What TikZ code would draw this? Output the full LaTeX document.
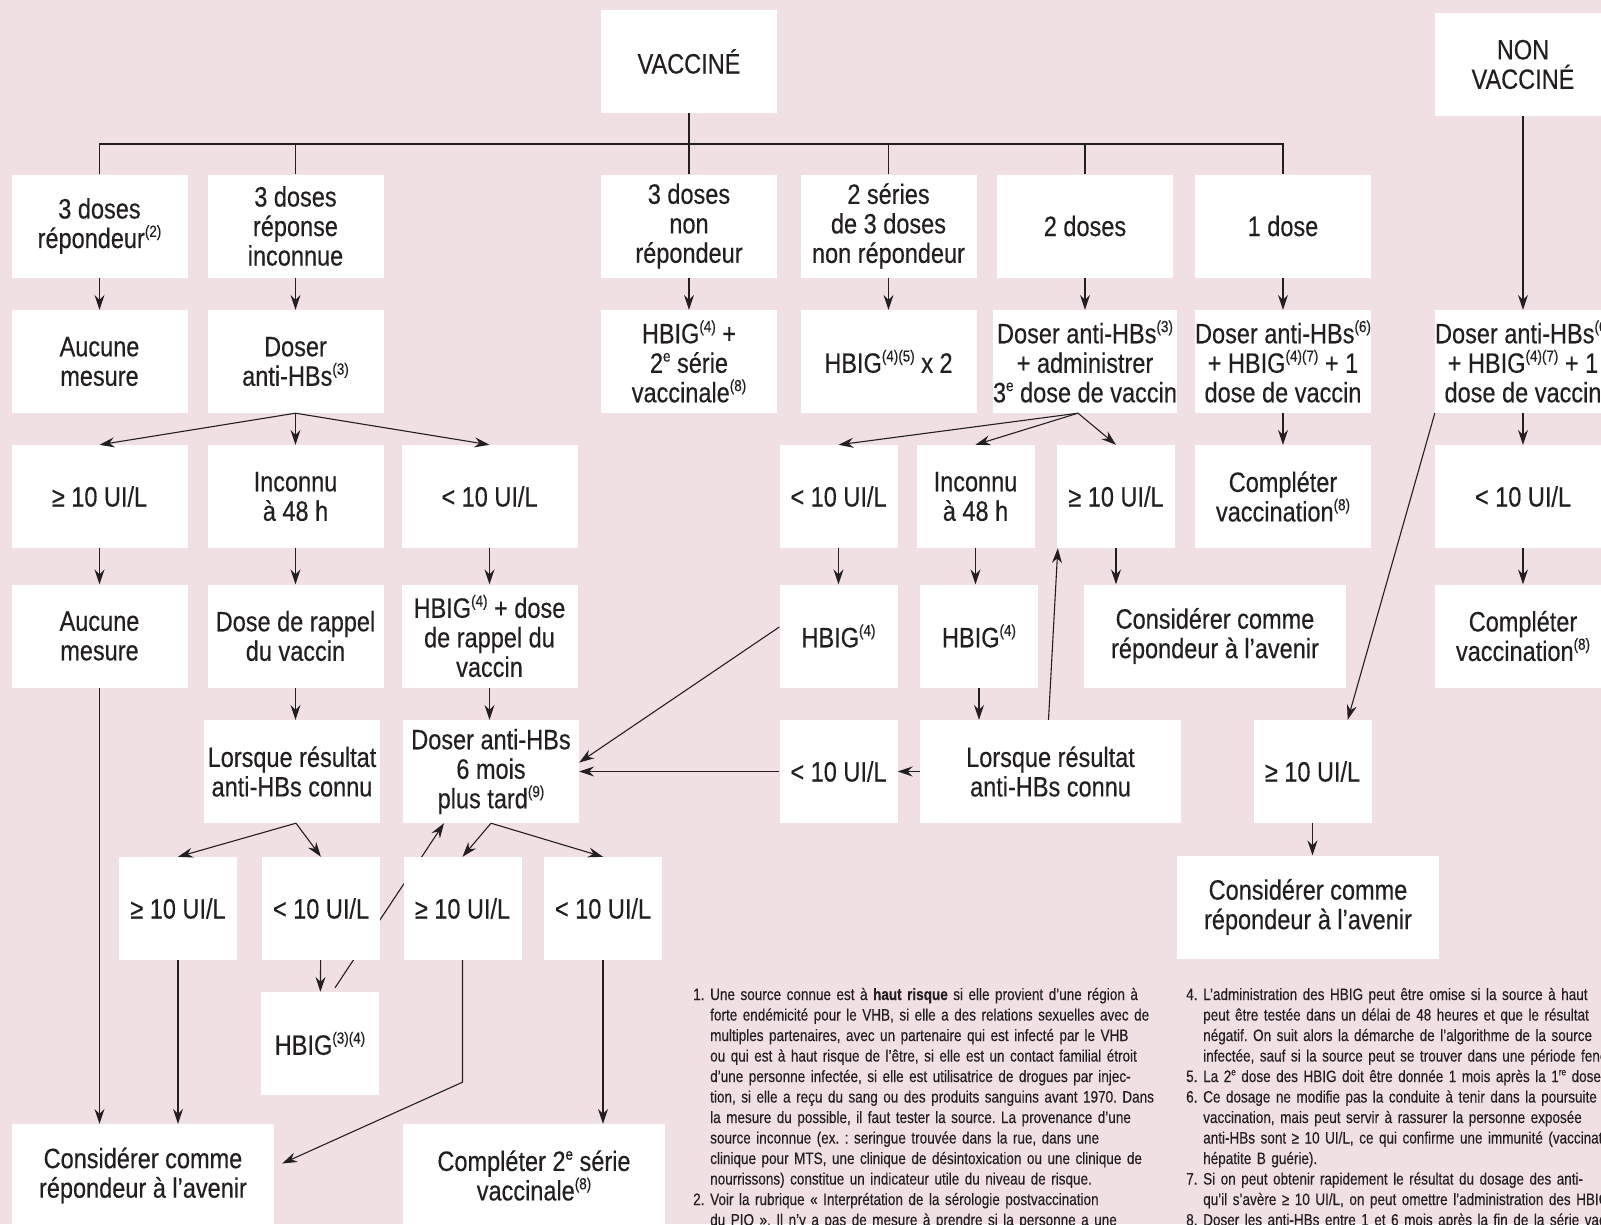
\documentclass[tikz,border=0pt]{standalone}
\usepackage{fontspec}
\setmainfont{Liberation Sans}[FakeStretch=0.84,FakeBold=0.35]
\newfontfamily\notefam{Liberation Sans}[FakeStretch=0.82,FakeBold=0.3]
\usetikzlibrary{arrows.meta}
\frenchspacing
\definecolor{pinkbg}{RGB}{240,224,228}
\definecolor{ink}{RGB}{35,31,32}
\newcommand\boxfont{\fontsize{28}{29.5}\selectfont}
\newcommand\notefont{\notefam\fontsize{16.5}{20.5}\selectfont}
\newcommand\expo[1]{\raisebox{0.4em}{\fontsize{16}{16}\selectfont #1}}
\newcommand\nexpo[1]{\raisebox{0.4em}{\fontsize{10}{10}\selectfont #1}}
\newcommand\fnfirst[2]{\makebox[17pt][l]{#1}\makebox[452pt][s]{#2}}
\newcommand\fnline[1]{\hspace*{17pt}\makebox[452pt][s]{#1}}
\newcommand\fnrag[1]{\hspace*{17pt}#1}
\pgfdeclarelayer{background}
\pgfsetlayers{background,main}
\tikzset{
  box/.style={fill=white, text=ink, inner sep=0pt, minimum width=176pt, minimum height=103pt, align=center, font=\boxfont},
  smallbox/.style={box, minimum width=118pt},
  longbox/.style={box, minimum width=262pt},
  arr/.style={draw=ink, line width=1.1pt, -{Stealth[length=15pt,width=10pt,inset=5pt]}},
  ln/.style={draw=ink, line width=1.1pt},
  note/.style={text=ink, inner sep=0pt, text width=469pt, align=left, font=\notefont, anchor=base west}
}
\begin{document}
\begin{tikzpicture}[x=1pt,y=-1pt]
\useasboundingbox (0,0) rectangle (1601,1224);
\begin{pgfonlayer}{background}
\fill[pinkbg] (0,0) rectangle (1601,1224);
\end{pgfonlayer}

\node[box] (vacc) at (689,61.5) {VACCINÉ};
\node[box] (nonvacc) at (1523,64.5) {NON\\VACCINÉ};
\coordinate (bar) at (0,144);

\node[box] (r1c1) at (99.5,226) {3 doses\\répondeur\expo{(2)}};
\node[box] (r1c2) at (295.5,226) {3 doses\\réponse\\inconnue};
\node[box] (r1c4) at (689,226) {3 doses\\non\\répondeur};
\node[box] (r1c5) at (888.5,226) {2 séries\\de 3 doses\\non répondeur};
\node[box] (r1c6) at (1085,226) {2 doses};
\node[box] (r1c7) at (1283,226) {1 dose};

\node[box] (r2c1) at (99.5,361.5) {Aucune\\mesure};
\node[box] (r2c2) at (295.5,361.5) {Doser\\anti-HBs\expo{(3)}};
\node[box] (r2c4) at (689,361.5) {HBIG\expo{(4)} +\\2\expo{e} série\\vaccinale\expo{(8)}};
\node[box] (r2c5) at (888.5,361.5) {HBIG\expo{(4)(5)} x 2};
\node[box] (r2c6) at (1085,361.5) {Doser anti-HBs\expo{(3)}\\+ administrer\\3\expo{e} dose de vaccin};
\node[box] (r2c7) at (1283,361.5) {Doser anti-HBs\expo{(6)}\\+ HBIG\expo{(4)(7)} + 1\\dose de vaccin};
\node[box] (r2c8) at (1523,361.5) {Doser anti-HBs\expo{(6)}\\+ HBIG\expo{(4)(7)} + 1\\dose de vaccin};

\node[box] (r3c1) at (99.5,496.5) {≥ 10 UI/L};
\node[box] (r3c2) at (295.5,496.5) {Inconnu\\à 48 h};
\node[box] (r3c3) at (489.5,496.5) {< 10 UI/L};
\node[smallbox] (m3a) at (838.5,496.5) {< 10 UI/L};
\node[smallbox] (m3b) at (975.5,496.5) {Inconnu\\à 48 h};
\node[smallbox] (m3c) at (1116,496.5) {≥ 10 UI/L};
\node[box] (r3c7) at (1283,496.5) {Compléter\\vaccination\expo{(8)}};
\node[box] (r3c8) at (1523,496.5) {< 10 UI/L};

\node[box] (r4c1) at (99.5,636) {Aucune\\mesure};
\node[box] (r4c2) at (295.5,636) {Dose de rappel\\du vaccin};
\node[box] (r4c3) at (489.5,636) {HBIG\expo{(4)} + dose\\de rappel du\\vaccin};
\node[smallbox] (m4a) at (838.5,636) {HBIG\expo{(4)}};
\node[smallbox] (m4b) at (979,636) {HBIG\expo{(4)}};
\node[longbox] (m4c) at (1215,636) {Considérer comme\\répondeur à l’avenir};
\node[box] (r4c8) at (1523,636) {Compléter\\vaccination\expo{(8)}};

\node[box] (r5c2) at (292,771.5) {Lorsque résultat\\anti-HBs connu};
\node[box] (r5c3) at (491,771.5) {Doser anti-HBs\\6 mois\\plus tard\expo{(9)}};
\node[smallbox] (m5a) at (838.5,771.5) {< 10 UI/L};
\node[box, minimum width=261pt] (m5b) at (1050.5,771.5) {Lorsque résultat\\anti-HBs connu};
\node[smallbox] (rb1) at (1312.5,771.5) {≥ 10 UI/L};
\node[longbox] (rb2) at (1308,907) {Considérer comme\\répondeur à l’avenir};

\node[smallbox] (s6a) at (178,908.5) {≥ 10 UI/L};
\node[smallbox] (s6b) at (321,908.5) {< 10 UI/L};
\node[smallbox] (s6c) at (462.5,908.5) {≥ 10 UI/L};
\node[smallbox] (s6d) at (603,908.5) {< 10 UI/L};
\node[smallbox] (hbig34) at (320,1043.5) {HBIG\expo{(3)(4)}};
\node[longbox] (bl) at (143,1175.5) {Considérer comme\\répondeur à l’avenir};
\node[longbox] (br2) at (534,1175.5) {Compléter 2\expo{e} série\\vaccinale\expo{(8)}};

\node[note] (fn1) at (693,1000) {\noindent
\fnfirst{1.}{Une source connue est à \textbf{haut risque} si elle provient d’une région à}\\
\fnline{forte endémicité pour le VHB, si elle a des relations sexuelles avec de}\\
\fnline{multiples partenaires, avec un partenaire qui est infecté par le VHB}\\
\fnline{ou qui est à haut risque de l’être, si elle est un contact familial étroit}\\
\fnline{d’une personne infectée, si elle est utilisatrice de drogues par injec-}\\
\fnline{tion, si elle a reçu du sang ou des produits sanguins avant 1970. Dans}\\
\fnline{la mesure du possible, il faut tester la source. La provenance d’une}\\
\fnline{source inconnue (ex. : seringue trouvée dans la rue, dans une}\\
\fnline{clinique pour MTS, une clinique de désintoxication ou une clinique de}\\
\fnrag{nourrissons) constitue un indicateur utile du niveau de risque.}\\
\fnfirst{2.}{Voir la rubrique « Interprétation de la sérologie postvaccination}\\
\fnline{du PIO ». Il n’y a pas de mesure à prendre si la personne a une}};

\node[note] (fn2) at (1186,1000) {\noindent
\makebox[17pt][l]{4.}L’administration des HBIG peut être omise si la source à haut\\
\fnrag{peut être testée dans un délai de 48 heures et que le résultat}\\
\fnrag{négatif. On suit alors la démarche de l’algorithme de la source}\\
\fnrag{infectée, sauf si la source peut se trouver dans une période fenêtre}\\
\makebox[17pt][l]{5.}La 2\nexpo{e} dose des HBIG doit être donnée 1 mois après la 1\nexpo{re} dose\\
\makebox[17pt][l]{6.}Ce dosage ne modifie pas la conduite à tenir dans la poursuite\\
\fnrag{vaccination, mais peut servir à rassurer la personne exposée}\\
\fnrag{anti-HBs sont ≥ 10 UI/L, ce qui confirme une immunité (vaccination}\\
\fnrag{hépatite B guérie).}\\
\makebox[17pt][l]{7.}Si on peut obtenir rapidement le résultat du dosage des anti-\\
\fnrag{qu’il s’avère ≥ 10 UI/L, on peut omettre l’administration des HBIG}\\
\makebox[17pt][l]{8.}Doser les anti-HBs entre 1 et 6 mois après la fin de la série vaccinale};

\draw[ln] (vacc.south) -- (vacc.south |- bar);
\draw[ln] (r1c1.north) -- (r1c1.north |- bar) -- (r1c7.north |- bar) -- (r1c7.north);
\draw[ln] (r1c2.north) -- (r1c2.north |- bar);
\draw[ln] (r1c4.north) -- (r1c4.north |- bar);
\draw[ln] (r1c5.north) -- (r1c5.north |- bar);
\draw[ln] (r1c6.north) -- (r1c6.north |- bar);
\draw[arr] (nonvacc) -- (r2c8);

\draw[arr] (r1c1) -- (r2c1);
\draw[arr] (r1c2) -- (r2c2);
\draw[arr] (r1c4) -- (r2c4);
\draw[arr] (r1c5) -- (r2c5);
\draw[arr] (r1c6) -- (r2c6);
\draw[arr] (r1c7) -- (r2c7);

\draw[arr] (r2c2.south) -- (r3c1.north);
\draw[arr] (r2c2.south) -- (r3c2.north);
\draw[arr] (r2c2.south) -- (r3c3.north);
\draw[arr] ([xshift=-7pt]r2c6.south) -- (m3a.north);
\draw[arr] ([xshift=-7pt]r2c6.south) -- (m3b.north);
\draw[arr] ([xshift=-7pt]r2c6.south) -- (m3c.north);
\draw[arr] (r2c7) -- (r3c7);
\draw[arr] (r2c8) -- (r3c8);
\draw[arr] (r2c8.south west) -- ([xshift=-24pt]rb1.north east);

\draw[arr] (r3c1) -- (r4c1);
\draw[arr] (r3c2) -- (r4c2);
\draw[arr] (r3c3) -- (r4c3);
\draw[arr] (m3a) -- (m4a);
\draw[arr] (m3b.south) -- (m3b.south |- m4b.north);
\draw[arr] (m3c.south) -- (m3c.south |- m4c.north);
\draw[arr] (r3c8) -- (r4c8);

\draw[arr] (r4c1.south) -- (r4c1.south |- bl.north);
\draw[arr] (r4c2.south) -- (r4c2.south |- r5c2.north);
\draw[arr] (r4c3.south) -- (r4c3.south |- r5c3.north);
\draw[arr] ([yshift=9pt]m4a.west) -- ([yshift=9pt]r5c3.east);
\draw[arr] (m4b.south) -- (m4b.south |- m5b.north);

\draw[arr] (m5b.west) -- (m5a.east);
\draw[arr] (m5a.west) -- (r5c3.east);
\draw[arr] ([xshift=-2pt]m5b.north) -- ([xshift=1pt]m3c.south west);
\draw[arr] (rb1.south) -- (rb1.south |- rb2.north);

\draw[arr] ([xshift=4pt]r5c2.south) -- (s6a.north);
\draw[arr] ([xshift=4pt]r5c2.south) -- (s6b.north);
\draw[arr] (r5c3.south) -- (s6c.north);
\draw[arr] (r5c3.south) -- (s6d.north);
\draw[arr] (s6b) -- (hbig34);
\draw[arr] (s6a.south) -- (s6a.south |- bl.north);
\draw[arr] (s6c.south) -- ++(0,122) -- ([xshift=8pt,yshift=12pt]bl.east);
\draw[arr] (s6d.south) -- (s6d.south |- br2.north);
\begin{pgfonlayer}{background}
\draw[arr] ([xshift=15pt,yshift=4pt]hbig34.north) -- ([xshift=-47pt]r5c3.south);
\end{pgfonlayer}
\end{tikzpicture}
\end{document}
